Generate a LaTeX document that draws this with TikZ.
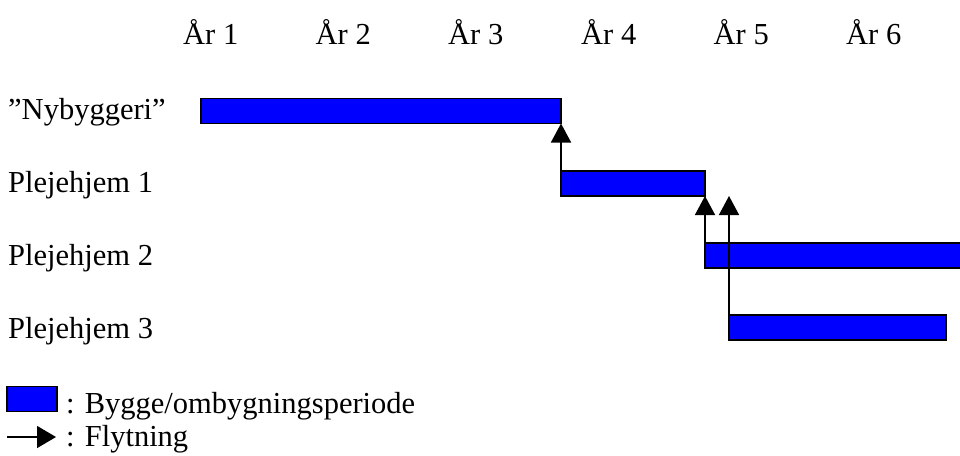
\documentclass[tikz,border=0pt]{standalone}
\usepackage{fontspec}
\setmainfont{Liberation Serif}
\usetikzlibrary{arrows.meta}
\definecolor{barblue}{RGB}{0,0,255}
\tikzset{
  bar/.style={draw=black, line width=1.5pt, fill=barblue, inner sep=0pt, outer sep=0pt, anchor=north west, minimum height=25pt},
  lbl/.style={anchor=base west, inner sep=0pt, font=\fontsize{30.5}{36}\selectfont},
  yr/.style={anchor=base west, inner sep=0pt, font=\fontsize{30.5}{36}\selectfont},
  move/.style={draw=black, line width=1.5pt, -{Triangle[width=20pt,length=19pt]}},
}
\begin{document}
\begin{tikzpicture}[x=1pt,y=-1pt]
\useasboundingbox (0,0) rectangle (960,455);
\clip (0,0) rectangle (960,455);
% year labels
\node[yr] (y1) at (183,44) {År 1};
\node[yr] (y2) at (315.5,44) {År 2};
\node[yr] (y3) at (448,44) {År 3};
\node[yr] (y4) at (581,44) {År 4};
\node[yr] (y5) at (713.5,44) {År 5};
\node[yr] (y6) at (846,44) {År 6};
% row labels
\node[lbl] (lny) at (8,119) {”Nybyggeri”};
\node[lbl] (lp1) at (8,192) {Plejehjem 1};
\node[lbl] (lp2) at (8,265) {Plejehjem 2};
\node[lbl] (lp3) at (8,338) {Plejehjem 3};
% bars
\node[bar, minimum width=360pt] (ny) at (201,98.5) {};
\node[bar, minimum width=144pt] (p1) at (561,171) {};
\node[bar, minimum width=285pt] (p2) at (705,243) {};
\node[bar, minimum width=217pt] (p3) at (729,315) {};
% moves
\draw[move] (p1.north west) -- (p1.north west |- ny.south);
\draw[move] (p2.north west) -- (p2.north west |- p1.south);
\draw[move] (p3.north west) -- (p3.north west |- p1.south);
% legend
\node[bar, minimum width=50pt, minimum height=25pt] (lgbox) at (7,386.5) {};
\node[lbl] (lgt1) at (66,413) {: Bygge/ombygningsperiode};
\coordinate (la) at (7,437);
\coordinate (lb) at (56,437);
\draw[draw=black, line width=1.5pt, -{Triangle[width=22pt,length=19pt]}] (la) -- (lb);
\node[lbl] (lgt2) at (66,446.5) {: Flytning};
\end{tikzpicture}
\end{document}
